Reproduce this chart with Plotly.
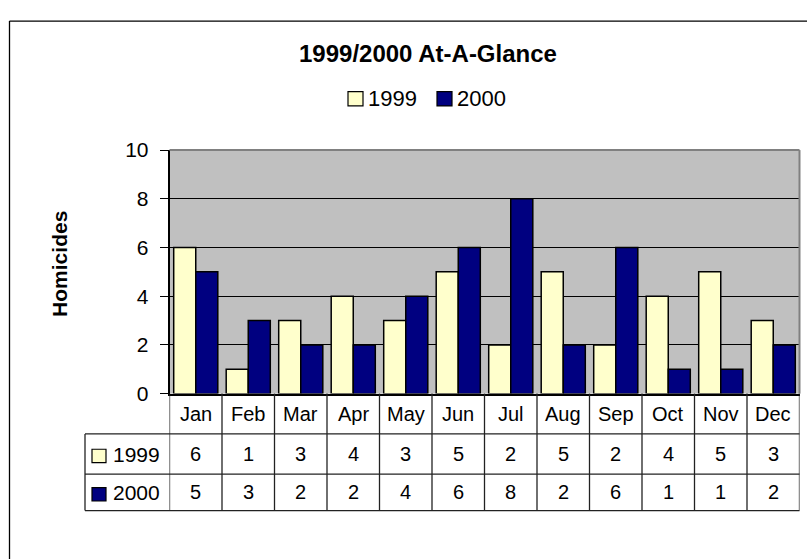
import plotly.graph_objects as go

# ---------------- data ----------------
months = ["Jan", "Feb", "Mar", "Apr", "May", "Jun", "Jul", "Aug", "Sep", "Oct", "Nov", "Dec"]
series_names = ["1999", "2000"]
values_1999 = [6, 1, 3, 4, 3, 5, 2, 5, 2, 4, 5, 3]
values_2000 = [5, 3, 2, 2, 4, 6, 8, 2, 6, 1, 1, 2]
y_tick_values = [0, 2, 4, 6, 8, 10]
chart_title = "1999/2000 At-A-Glance"
y_axis_title = "Homicides"

# ---------------- style ----------------
series_values = [values_1999, values_2000]
series_colors = ["#FFFFCC", "#000080"]
W, H = 807, 559
FONT = "Arial, Liberation Sans, sans-serif"


def px(x):
    return x / W


def py(y):
    return 1 - y / H


fig = go.Figure()
for name, vals, col in zip(series_names, series_values, series_colors):
    fig.add_trace(go.Bar(
        x=months, y=vals, name=name,
        marker=dict(color=col, line=dict(color="black", width=1.5)),
        showlegend=False, hoverinfo="x+y+name",
    ))

fig.update_layout(
    width=W, height=H,
    margin=dict(l=0, r=0, t=0, b=0),
    paper_bgcolor="white", plot_bgcolor="#C0C0C0",
    barmode="group", bargap=0.16, bargroupgap=0.0,
    font=dict(family=FONT, color="black"),
)

plot_left, plot_right, plot_top, plot_bottom = 169.5, 799.5, 144, 398
fig.update_xaxes(
    domain=[px(plot_left), px(plot_right)], range=[-0.5, len(months) - 0.5],
    showticklabels=False, ticks="", showgrid=False, zeroline=False,
    showline=True, linecolor="black", linewidth=1.5,
)
fig.update_yaxes(
    domain=[py(plot_bottom), py(plot_top)], range=[0, 10],
    tickvals=y_tick_values, ticktext=[str(v) for v in y_tick_values],
    showgrid=True, gridcolor="black", gridwidth=1,
    ticks="outside", ticklen=8, tickcolor="black", tickwidth=1.3,
    showline=True, linecolor="black", linewidth=1.5, zeroline=False,
    tickfont=dict(size=21, family=FONT), ticklabelstandoff=7,
)

shapes = []
# plot area top/right border (gray)
shapes.append(dict(type="line", xref="x domain", yref="y domain", x0=0, x1=1, y0=1, y1=1,
                   line=dict(color="#808080", width=2), layer="above"))
shapes.append(dict(type="line", xref="x domain", yref="y domain", x0=1, x1=1, y0=0, y1=1,
                   line=dict(color="#808080", width=2), layer="above"))

# outer chart border (left and top visible)
shapes.append(dict(type="line", xref="paper", yref="paper", x0=px(9.5), x1=px(9.5), y0=-0.1, y1=py(9.5),
                   line=dict(color="black", width=1.3)))
shapes.append(dict(type="line", xref="paper", yref="paper", x0=px(9.5), x1=1.1, y0=py(9.5), y1=py(9.5),
                   line=dict(color="black", width=1.3)))

# data table
row_cat, row_a, row_b = 419, 461, 501
table_top, line1, line2, table_bottom = plot_bottom, 440, 482, 520
table_left = 85
grid_col = "#222222"
for i in range(len(months) + 1):
    shapes.append(dict(type="line", xref="x", yref="paper", x0=i - 0.5, x1=i - 0.5,
                       y0=py(table_top), y1=py(table_bottom), line=dict(color=grid_col, width=1.3)))
for yy in (line1, line2, table_bottom):
    shapes.append(dict(type="line", xref="paper", yref="paper", x0=px(table_left), x1=px(plot_right),
                       y0=py(yy), y1=py(yy), line=dict(color=grid_col, width=1.3)))
shapes.append(dict(type="line", xref="paper", yref="paper", x0=px(table_left), x1=px(table_left),
                   y0=py(line1), y1=py(table_bottom), line=dict(color=grid_col, width=1.3)))

annotations = []
for m in months:
    annotations.append(dict(x=m, y=py(row_cat), xref="x", yref="paper", text=m, showarrow=False,
                            font=dict(size=20, family=FONT), xanchor="center", yanchor="middle"))
for vals, ry in zip(series_values, (row_a, row_b)):
    for m, v in zip(months, vals):
        annotations.append(dict(x=m, y=py(ry), xref="x", yref="paper", text=str(v), showarrow=False,
                                font=dict(size=20, family=FONT), xanchor="center", yanchor="middle"))

# row labels with keys
for name, col, ry in zip(series_names, series_colors, (row_a, row_b)):
    shapes.append(dict(type="rect", xref="paper", yref="paper", x0=px(92), x1=px(106),
                       y0=py(ry + 9), y1=py(ry - 5), fillcolor=col, line=dict(color="black", width=1.2)))
    annotations.append(dict(x=px(111), y=py(ry), xref="paper", yref="paper", text=name, showarrow=False,
                            font=dict(size=21, family=FONT), xanchor="left", yanchor="middle"))

# legend (top)
legend_keys_x = [348, 437]
for name, col, lx in zip(series_names, series_colors, legend_keys_x):
    shapes.append(dict(type="rect", xref="paper", yref="paper", x0=px(lx), x1=px(lx + 15),
                       y0=py(98), y1=py(83), fillcolor=col, line=dict(color="black", width=1.2)))
    annotations.append(dict(x=px(lx + 18), y=py(90), xref="paper", yref="paper", text=name, showarrow=False,
                            font=dict(size=22, family=FONT), xanchor="left", yanchor="middle"))

# title
annotations.append(dict(x=px(428), y=py(43), xref="paper", yref="paper", text="<b>" + chart_title + "</b>",
                        showarrow=False, font=dict(size=24, family=FONT), xanchor="center", yanchor="middle"))
# y axis title
annotations.append(dict(x=px(58.7), y=py(263), xref="paper", yref="paper", text="<b>" + y_axis_title + "</b>",
                        showarrow=False, textangle=-90, font=dict(size=21, family=FONT),
                        xanchor="center", yanchor="middle"))

fig.update_layout(shapes=shapes, annotations=annotations)
fig.write_html(
    "out.html",
    config={"displayModeBar": False},
    post_script="document.body.style.margin='0';document.body.style.overflow='hidden';",
)
